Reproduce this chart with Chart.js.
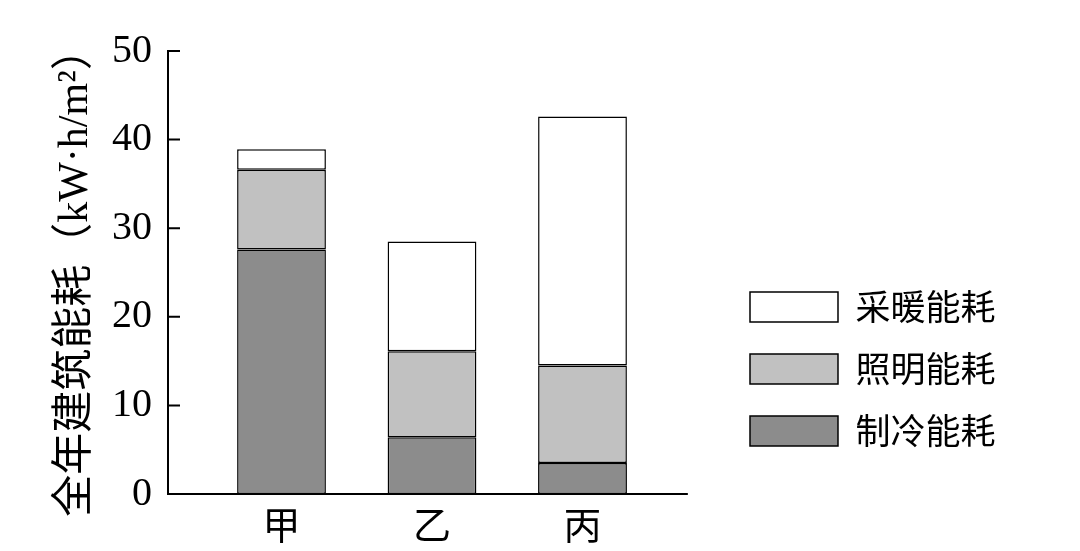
<!DOCTYPE html>
<html>
<head>
<meta charset="utf-8">
<script src="https://cdn.jsdelivr.net/npm/chart.js@4"></script>
<style>
  html, body { margin: 0; padding: 0; background: #fff; }
  #wrap { width: 1080px; height: 551px; }
</style>
</head>
<body>
<div id="wrap"><canvas id="energyChart" width="1080" height="551"></canvas></div>
<script>
// dữ liệu
const categories = ['甲', '乙', '丙'];
const coolingValues = [27.6, 6.4, 3.5];
const lightingValues = [9.0, 9.7, 11.0];
const heatingValues = [2.3, 12.4, 28.1];
const seriesNames = ['制冷能耗', '照明能耗', '采暖能耗'];
const yTicks = [0, 10, 20, 30, 40, 50];
const yTitle = '全年建筑能耗（kW·h/m²）';

const SERIF = '"Liberation Serif", "Noto Sans CJK SC", serif';
const CJK = '"Noto Sans CJK SC", sans-serif';
const AXIS_END = 3.7; // chỗ trục hoành kết thúc

const toPoints = (values) => values.map((v, i) => ({ x: i + 1, y: v }));

// vạch chia hướng vào trong + đường đáy
const axisMarks = {
    id: 'axisMarks',
    afterDatasetsDraw(chart) {
        const { ctx, chartArea, scales: { x, y } } = chart;
        ctx.save();
        ctx.strokeStyle = '#000';
        ctx.lineWidth = 2;
        ctx.beginPath();
        yTicks.forEach(v => {
            const py = y.getPixelForValue(v);
            ctx.moveTo(chartArea.left, py);
            ctx.lineTo(chartArea.left + 12, py);
        });
        const base = y.getPixelForValue(0);
        ctx.moveTo(chartArea.left - 1, base);
        ctx.lineTo(x.getPixelForValue(AXIS_END), base);
        ctx.stroke();
        ctx.restore();
    }
};

const common = { borderColor: '#000', borderWidth: 1.5, borderSkipped: false, barPercentage: 0.59, categoryPercentage: 1 };

function drawChart() {
    new Chart(document.getElementById('energyChart'), {
        type: 'bar',
        data: {
            datasets: [
                { ...common, label: seriesNames[0], data: toPoints(coolingValues), backgroundColor: '#8c8c8c' },
                { ...common, label: seriesNames[1], data: toPoints(lightingValues), backgroundColor: '#c1c1c1' },
                { ...common, label: seriesNames[2], data: toPoints(heatingValues), backgroundColor: '#ffffff' }
            ]
        },
        options: {
            responsive: false,
            animation: false,
            devicePixelRatio: 1,
            layout: { padding: { top: 51, left: 0, right: 74.5, bottom: 0 } },
            scales: {
                x: {
                    type: 'linear',
                    stacked: true,
                    offset: false,
                    min: 0.2458,
                    max: 3.9336,
                    grid: { display: false, drawTicks: false, offset: false },
                    border: { display: false },
                    afterBuildTicks: (scale) => { scale.ticks = categories.map((c, i) => ({ value: i + 1 })); },
                    afterFit: (scale) => { scale.height = 57; },
                    ticks: {
                        autoSkip: false,
                        maxRotation: 0,
                        padding: 8,
                        color: '#000',
                        font: { family: CJK, size: 38 },
                        callback: (v) => categories[v - 1]
                    }
                },
                y: {
                    stacked: true,
                    min: 0,
                    max: 50,
                    grid: { display: false, drawTicks: false },
                    border: { display: true, color: '#000', width: 2 },
                    afterBuildTicks: (scale) => { scale.ticks = yTicks.map(v => ({ value: v })); },
                    afterFit: (scale) => { scale.width = 168; },
                    ticks: {
                        padding: 16,
                        color: '#000',
                        font: { family: SERIF, size: 40 }
                    },
                    title: {
                        display: true,
                        text: yTitle,
                        color: '#000',
                        padding: { top: 51, bottom: 0 },
                        font: { family: SERIF, size: 42 }
                    }
                }
            },
            plugins: {
                tooltip: { enabled: false },
                legend: {
                    position: 'right',
                    align: 'center',
                    reverse: true,
                    maxWidth: 320, // mặc định bị giới hạn ~1/4 chiều rộng nên chữ bị cắt
                    title: { display: true, text: ' ', padding: { top: 121.6, bottom: 0 }, font: { size: 12 } },
                    labels: {
                        boxWidth: 88,
                        boxHeight: 30,
                        padding: 27,
                        color: '#000',
                        font: { family: CJK, size: 35 }
                    }
                }
            }
        },
        plugins: [axisMarks]
    });
}

// đợi font tải xong rồi mới vẽ
Promise.all([
    document.fonts.load('35px "Noto Sans CJK SC"', '采暖照明制冷能耗甲乙丙全年建筑（）'),
    document.fonts.load('40px "Liberation Serif"', '0123456789kWh/m²·')
]).then(drawChart, drawChart);
</script>
</body>
</html>
